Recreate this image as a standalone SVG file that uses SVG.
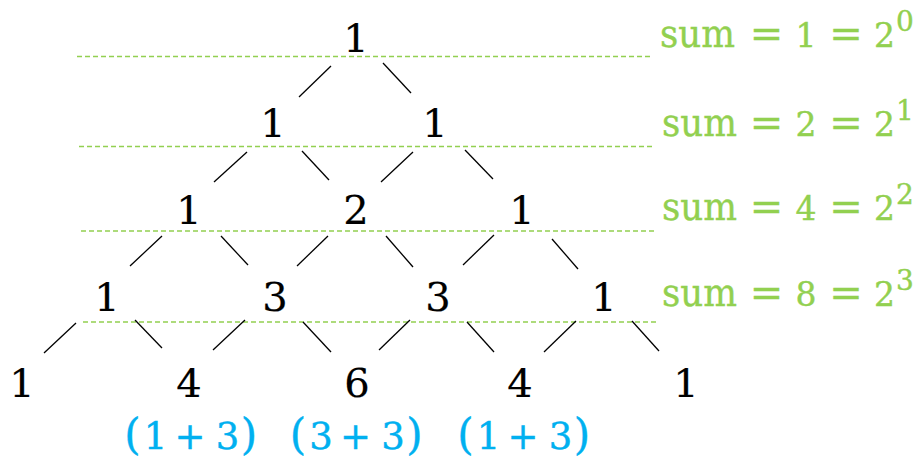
<svg xmlns="http://www.w3.org/2000/svg" width="917" height="458" viewBox="0 0 917 458">
<style>
.n{font-family:"DejaVu Serif","Liberation Serif",serif;font-size:40px;fill:#000;stroke:#000;stroke-width:0.2;text-anchor:middle}
.g{font-family:"DejaVu Serif","Liberation Serif",serif;font-size:33px;fill:#92D050;stroke:#92D050;stroke-width:0.4;text-anchor:middle}
.w{font-size:40px}
.sup{font-size:28px}
.b{font-family:"DejaVu Serif","Liberation Serif",serif;font-size:37px;fill:#00B0F0;stroke:#00B0F0;stroke-width:0.4;text-anchor:middle}
.p{font-size:42px}
.pl{font-size:37px}
.d{stroke:#92D050;stroke-width:1.4;stroke-dasharray:5 3;fill:none}
.c line{stroke:#000;stroke-width:1.3}
</style>
<rect width="917" height="458" fill="#fff"/>
<g id="rowlines">
<line class="d" x1="77" y1="56.5" x2="652" y2="56.5"/>
<line class="d" x1="79" y1="146.5" x2="653" y2="146.5"/>
<line class="d" x1="81" y1="231" x2="655" y2="231"/>
<line class="d" x1="83" y1="322" x2="659" y2="322"/>
</g>
<g id="connectors" class="c">
<line x1="331" y1="66" x2="299" y2="97"/>
<line x1="383" y1="63" x2="411" y2="93"/>
<line x1="247" y1="152" x2="214" y2="182"/>
<line x1="302" y1="151" x2="329" y2="180"/>
<line x1="413" y1="152" x2="381" y2="182"/>
<line x1="465" y1="150" x2="493" y2="179"/>
<line x1="162" y1="236" x2="130" y2="266"/>
<line x1="221" y1="236" x2="248" y2="265"/>
<line x1="328" y1="236" x2="297" y2="266"/>
<line x1="386" y1="236" x2="413" y2="267"/>
<line x1="494" y1="235" x2="463" y2="265"/>
<line x1="552" y1="239" x2="578" y2="269"/>
<line x1="76" y1="323" x2="44" y2="353"/>
<line x1="135" y1="320" x2="162" y2="348"/>
<line x1="245" y1="320" x2="213" y2="350"/>
<line x1="303" y1="322" x2="331" y2="352"/>
<line x1="410" y1="320" x2="379" y2="350"/>
<line x1="467" y1="322" x2="494" y2="352"/>
<line x1="576" y1="321" x2="544" y2="352"/>
<line x1="632" y1="321" x2="659" y2="351"/>
</g>
<g id="r0c0"><text class="n" x="356" y="52">1</text></g>
<g id="r1c0"><text class="n" x="273" y="137">1</text></g>
<g id="r1c1"><text class="n" x="435" y="137">1</text></g>
<g id="r2c0"><text class="n" x="189" y="224">1</text></g>
<g id="r2c1"><text class="n" x="356" y="224">2</text></g>
<g id="r2c2"><text class="n" x="522" y="224">1</text></g>
<g id="r3c0"><text class="n" x="107" y="311">1</text></g>
<g id="r3c1"><text class="n" x="275" y="311">3</text></g>
<g id="r3c2"><text class="n" x="438" y="311">3</text></g>
<g id="r3c3"><text class="n" x="604" y="311">1</text></g>
<g id="r4c0"><text class="n" x="22" y="397">1</text></g>
<g id="r4c1"><text class="n" x="189" y="397">4</text></g>
<g id="r4c2"><text class="n" x="357" y="397">6</text></g>
<g id="r4c3"><text class="n" x="520" y="397">4</text></g>
<g id="r4c4"><text class="n" x="686" y="397">1</text></g>
<g id="note1"><text class="b" y="449"><tspan class="p" x="132.5">(</tspan><tspan x="155.5">1</tspan><tspan class="pl" x="190">+</tspan><tspan x="227.5">3</tspan><tspan class="p" x="249">)</tspan></text></g>
<g id="note2"><text class="b" y="449"><tspan class="p" x="298">(</tspan><tspan x="321">3</tspan><tspan class="pl" x="355.5">+</tspan><tspan x="393">3</tspan><tspan class="p" x="414.5">)</tspan></text></g>
<g id="note3"><text class="b" y="449"><tspan class="p" x="465.5">(</tspan><tspan x="488.5">1</tspan><tspan class="pl" x="523">+</tspan><tspan x="560.5">3</tspan><tspan class="p" x="582">)</tspan></text></g>
<g id="sum0"><text class="g" y="47"><tspan class="w" x="697.5" textLength="75" lengthAdjust="spacingAndGlyphs">sum</tspan><tspan class="w" x="766.5">=</tspan><tspan x="806">1</tspan><tspan class="w" x="846">=</tspan><tspan x="884.5">2</tspan><tspan class="sup" x="905" y="31">0</tspan></text></g>
<g id="sum1"><text class="g" y="136"><tspan class="w" x="699.5" textLength="75" lengthAdjust="spacingAndGlyphs">sum</tspan><tspan class="w" x="766.5">=</tspan><tspan x="806">2</tspan><tspan class="w" x="846">=</tspan><tspan x="884.5">2</tspan><tspan class="sup" x="905" y="120">1</tspan></text></g>
<g id="sum2"><text class="g" y="220"><tspan class="w" x="699.5" textLength="75" lengthAdjust="spacingAndGlyphs">sum</tspan><tspan class="w" x="766.5">=</tspan><tspan x="806">4</tspan><tspan class="w" x="846">=</tspan><tspan x="884.5">2</tspan><tspan class="sup" x="905" y="204">2</tspan></text></g>
<g id="sum3"><text class="g" y="306"><tspan class="w" x="699.5" textLength="75" lengthAdjust="spacingAndGlyphs">sum</tspan><tspan class="w" x="766.5">=</tspan><tspan x="806">8</tspan><tspan class="w" x="846">=</tspan><tspan x="884.5">2</tspan><tspan class="sup" x="905" y="290">3</tspan></text></g>
</svg>
